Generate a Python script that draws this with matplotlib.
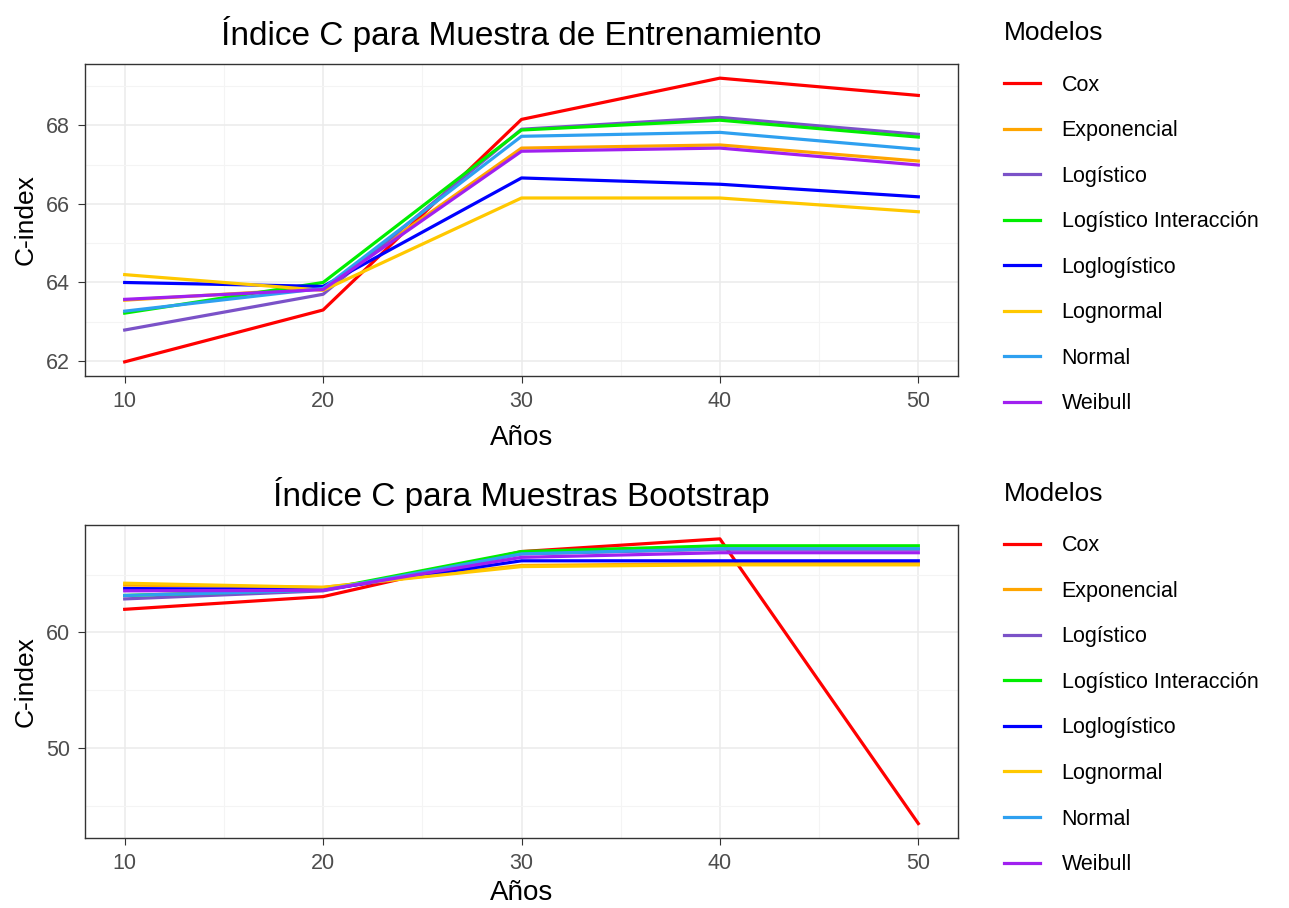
import matplotlib.pyplot as plt
from matplotlib.ticker import MultipleLocator

plt.rcParams["font.family"] = ["Liberation Sans", "DejaVu Sans"]

years = [10, 20, 30, 40, 50]
models = ["Cox", "Exponencial", "Logístico", "Logístico Interacción",
          "Loglogístico", "Lognormal", "Normal", "Weibull"]
colors = ["#FF0000", "#FFA500", "#7B52C8", "#00EE00",
          "#0000FF", "#FFC800", "#2EA0F0", "#A020F0"]

# C-index, training sample
train_cox = [61.98, 63.30, 68.15, 69.20, 68.76]
train_exp = [63.55, 63.85, 67.42, 67.50, 67.09]
train_log = [62.79, 63.70, 67.90, 68.20, 67.77]
train_logint = [63.22, 64.00, 67.88, 68.13, 67.70]
train_loglog = [64.00, 63.90, 66.66, 66.50, 66.18]
train_lognorm = [64.20, 63.80, 66.15, 66.15, 65.80]
train_norm = [63.27, 63.85, 67.72, 67.82, 67.39]
train_weib = [63.57, 63.82, 67.34, 67.42, 66.99]

# C-index, bootstrap samples
boot_cox = [62.00, 63.10, 67.00, 68.10, 43.45]
boot_exp = [64.10, 63.90, 65.80, 65.95, 65.95]
boot_log = [62.90, 63.60, 66.80, 67.20, 67.20]
boot_logint = [63.20, 63.70, 67.00, 67.50, 67.50]
boot_loglog = [63.80, 63.70, 66.20, 66.20, 66.20]
boot_lognorm = [64.26, 63.90, 65.70, 65.85, 65.85]
boot_norm = [63.20, 63.65, 66.80, 67.25, 67.25]
boot_weib = [63.60, 63.65, 66.50, 66.90, 66.90]

train = [train_cox, train_exp, train_log, train_logint,
         train_loglog, train_lognorm, train_norm, train_weib]
boot = [boot_cox, boot_exp, boot_log, boot_logint,
        boot_loglog, boot_lognorm, boot_norm, boot_weib]

fig = plt.figure(figsize=(12.89, 9.08), dpi=100)
ax1 = fig.add_axes([85 / 1289, 1 - 376 / 908, 873 / 1289, 312 / 908])
ax2 = fig.add_axes([85 / 1289, 1 - 838 / 908, 873 / 1289, 313 / 908])


def style_axis(ax, title, ymajor, ylim, xlabelpad):
    ax.set_xlim(8, 52)
    ax.set_ylim(*ylim)
    ax.xaxis.set_major_locator(MultipleLocator(10))
    ax.xaxis.set_minor_locator(MultipleLocator(5))
    ax.yaxis.set_major_locator(MultipleLocator(ymajor))
    ax.yaxis.set_minor_locator(MultipleLocator(ymajor / 2))
    ax.grid(True, which="major", color="#EBEBEB", linewidth=1.1)
    ax.grid(True, which="minor", color="#F4F4F4", linewidth=0.8)
    ax.set_axisbelow(True)
    for s in ax.spines.values():
        s.set_color("#333333")
        s.set_linewidth(1.0)
    ax.tick_params(which="major", length=5, color="#333333",
                   labelsize=15.5, labelcolor="#4D4D4D", pad=6)
    ax.tick_params(which="minor", length=0)
    ax.set_title(title, fontsize=24, pad=14)
    ax.set_xlabel("Años", fontsize=20, labelpad=xlabelpad)
    ax.set_ylabel("C-index", fontsize=19, labelpad=6)
    leg = ax.legend(loc="upper left", bbox_to_anchor=(1.03, 1.2),
                    frameon=False, title="Modelos", title_fontsize=19,
                    fontsize=15.5, handlelength=1.7, handletextpad=1.0,
                    labelspacing=1.14)
    leg._legend_box.align = "left"
    # a bit more room between the legend title and the entries
    leg._legend_box.sep = 1.14 * 15.5 + 3.6


for name, col, vals in zip(models, colors, train):
    ax1.plot(years, vals, color=col, linewidth=2.3, label=name)
style_axis(ax1, "Índice C para Muestra de Entrenamiento", 2, (61.62, 69.56), 9)

for name, col, vals in zip(models, colors, boot):
    ax2.plot(years, vals, color=col, linewidth=2.3, label=name)
style_axis(ax2, "Índice C para Muestras Bootstrap", 10, (42.2, 69.3), 4)

fig.savefig("out.png", dpi=100, facecolor="white")
